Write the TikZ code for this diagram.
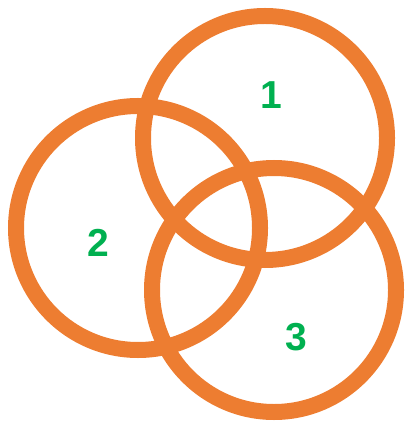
\documentclass[tikz,border=0pt]{standalone}
\usepackage{fontspec}
\setsansfont{Liberation Sans}
\usepackage{xcolor}
\usepackage{tikz}
\usetikzlibrary{positioning}
\definecolor{ringorange}{HTML}{ED7D31}
\definecolor{numgreen}{HTML}{00B050}
\tikzset{
  vring/.style={draw=ringorange, circle, line width=16pt, minimum size=244pt, inner sep=0pt},
  vnum/.style={text=numgreen, font=\sffamily\bfseries\fontsize{39}{39}\selectfont, inner sep=0pt}
}
\begin{document}
\begin{tikzpicture}[x=1pt,y=-1pt]
\useasboundingbox (0,0) rectangle (406,427);
\node[vring] (ringa) at (265,138) {};
\node[vring] (ringb) at (138,228) {};
\node[vring] (ringc) at (274,290) {};
\node[vnum] (numa) at (271,95) {1};
\node[vnum] (numb) at (98,243) {2};
\node[vnum] (numc) at (296,337) {3};
\end{tikzpicture}
\end{document}
